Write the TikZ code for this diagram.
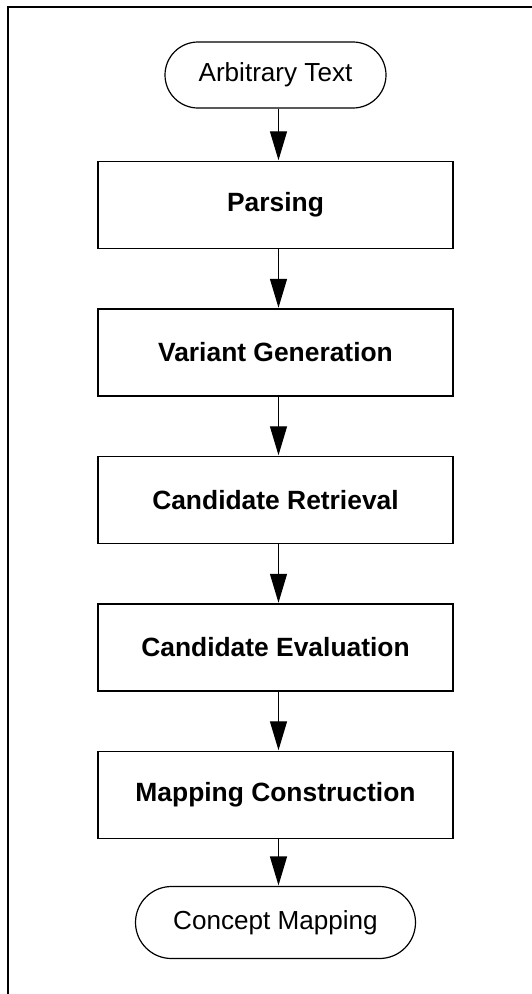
\documentclass[tikz,border=0pt]{standalone}
\usepackage{fontspec}
\setmainfont{Liberation Sans}
\usetikzlibrary{arrows.meta}
\begin{document}
\begin{tikzpicture}[x=1pt,y=1pt,
  stepbox/.style={draw, line width=1.5pt, minimum width=355pt, minimum height=87pt, inner sep=0pt,
    font=\fontsize{26.4}{30}\selectfont\bfseries},
  pill/.style={draw, line width=1.2pt, inner sep=0pt, font=\fontsize{26.1}{30}\selectfont},
  flow/.style={line width=1.3pt, -{Triangle[length=29pt,width=17pt]}, shorten >=0.5pt}
]
\useasboundingbox (0,0) rectangle (531,-994);
\draw[line width=1.5pt] (8,-7) rectangle (560,-1030);
\node[pill, minimum width=221pt, minimum height=66pt, rounded corners=33pt] (arb) at (275.5,-75) {Arbitrary Text};
\node[stepbox] (parse) at (275.5,-205) {Parsing};
\node[stepbox] (var) at (275.5,-352.5) {Variant Generation};
\node[stepbox] (ret) at (275.5,-500) {Candidate Retrieval};
\node[stepbox] (eval) at (275.5,-647.5) {Candidate Evaluation};
\node[stepbox] (map) at (275.5,-795) {Mapping Construction};
\node[pill, minimum width=280pt, minimum height=72pt, rounded corners=36pt] (con) at (275.5,-922.5) {Concept Mapping};
\draw[flow] ([xshift=3pt]arb.south) -- ([xshift=3pt]parse.north);
\draw[flow] ([xshift=3pt]parse.south) -- ([xshift=3pt]var.north);
\draw[flow] ([xshift=3pt]var.south) -- ([xshift=3pt]ret.north);
\draw[flow] ([xshift=3pt]ret.south) -- ([xshift=3pt]eval.north);
\draw[flow] ([xshift=3pt]eval.south) -- ([xshift=3pt]map.north);
\draw[flow] ([xshift=3pt]map.south) -- ([xshift=3pt]con.north);
\end{tikzpicture}
\end{document}
